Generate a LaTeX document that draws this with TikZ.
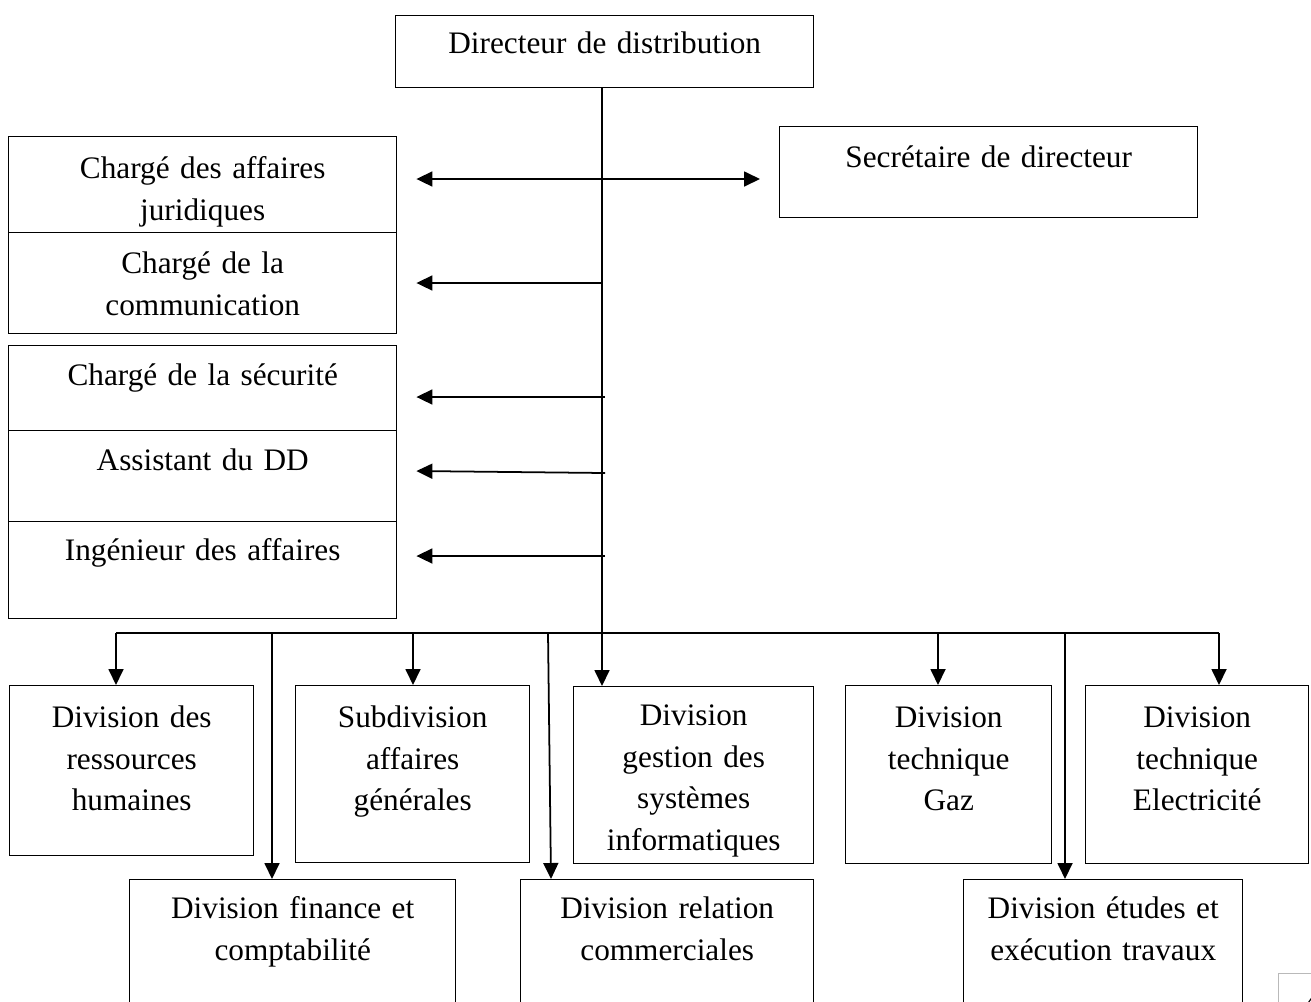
\documentclass[tikz,border=0pt]{standalone}
\usepackage{fontspec}
\setmainfont{Liberation Serif}
\usetikzlibrary{arrows.meta}

\begin{document}
\begin{tikzpicture}[x=0.2mm, y=-0.2mm,
    box/.style={draw, line width=0.8pt, anchor=north west, inner sep=0pt, align=center,
      font=\fontsize{17.8pt}{23.6pt}\selectfont},
    link/.style={line width=1pt},
    arr/.style={link, -{Triangle[length=0.32cm, width=0.3cm]}},
    dblarr/.style={link, {Triangle[length=0.32cm, width=0.3cm]}-{Triangle[length=0.32cm, width=0.3cm]}}
  ]
    \clip (0,0) rectangle (1311,1001);

    \node[box, text width=8.36cm, text height=0.76cm, text depth=0.68cm] (dir) at (395,15) {Directeur de distribution};
    \node[box, text width=8.36cm, text height=0.82cm, text depth=1.0cm] (sec) at (779,126) {Secrétaire de directeur};

    \node[box, text width=7.76cm, text height=0.84cm, text depth=1.08cm] (jur) at (8,136) {Chargé des affaires\\juridiques};
    \node[box, text width=7.76cm, text height=0.82cm, text depth=1.2cm] (com) at (8,232) {Chargé de la\\communication};
    \node[box, text width=7.76cm, text height=0.80cm, text depth=0.90cm] (secu) at (8,345) {Chargé de la sécurité};
    \node[box, text width=7.76cm, text height=0.80cm, text depth=1.02cm] (ass) at (8,430) {Assistant du DD};
    \node[box, text width=7.76cm, text height=0.78cm, text depth=1.16cm] (ing) at (8,521) {Ingénieur des affaires};

    \node[box, text width=4.88cm, text height=0.84cm, text depth=2.56cm] (drh) at (9,685) {Division des\\ressources\\humaines};
    \node[box, text width=4.68cm, text height=0.84cm, text depth=2.70cm] (sag) at (295,685) {Subdivision\\affaires\\générales};
    \node[box, text width=4.80cm, text height=0.78cm, text depth=2.76cm] (dgsi) at (573,686) {Division\\gestion des\\systèmes\\informatiques};
    \fill[white] ([yshift=-0.4pt]dgsi.south west) rectangle ([yshift=-0.2cm]dgsi.south east);
    \node[box, text width=4.12cm, text height=0.84cm, text depth=2.72cm] (gaz) at (845,685) {Division\\technique\\Gaz};
    \node[box, text width=4.46cm, text height=0.84cm, text depth=2.72cm] (elec) at (1085,685) {Division\\technique\\Electricité};

    \node[box, text width=6.52cm, text height=0.78cm, text depth=2.22cm] (fin) at (129,879) {Division finance et\\comptabilité};
    \node[box, text width=5.86cm, text height=0.78cm, text depth=2.22cm] (rel) at (520,879) {Division relation\\commerciales};
    \node[box, text width=5.58cm, text height=0.78cm, text depth=2.22cm] (etu) at (963,879) {Division études et\\exécution travaux};

    \coordinate (bus) at (602,633);
    \coordinate (j1) at (602,179);
    \coordinate (j2) at (602,283);
    \coordinate (j3) at (605,397);
    \coordinate (j5) at (605,556);

    \draw[link] (dir.south -| bus) -- (bus);
    \draw[arr] (bus) -- (bus |- dgsi.north);
    \draw[dblarr] ([xshift=0.38cm]jur.east |- j1) -- ([xshift=-0.38cm]sec.west |- j1);
    \draw[arr] (j2) -- ([xshift=0.38cm]com.east |- j2);
    \draw[arr] (j3) -- ([xshift=0.38cm]secu.east |- j3);
    \draw[arr] (605,473) -- ([xshift=0.38cm,yshift=0.04cm]ass.east |- 0,473);
    \draw[arr] (j5) -- ([xshift=0.38cm]ing.east |- j5);

    \draw[link] (116,633) -- (bus) -- (1219,633);
    \foreach \xx/\n in {116/drh, 413/sag, 938/gaz, 1219/elec, 272/fin, 1065/etu}
      \draw[arr] (\xx,633) -- (\xx,0 |- \n.north);
    \draw[arr] (548,633) -- (551,0 |- rel.north);

    \draw[gray!55, line width=0.5pt] (1278,1010) -- (1278,973) -- (1320,973);
    \node[anchor=base west, inner sep=0pt, font=\fontsize{17.8pt}{20pt}\selectfont] (pgnum) at (1304,1013) {4};
  \end{tikzpicture}
\end{document}
